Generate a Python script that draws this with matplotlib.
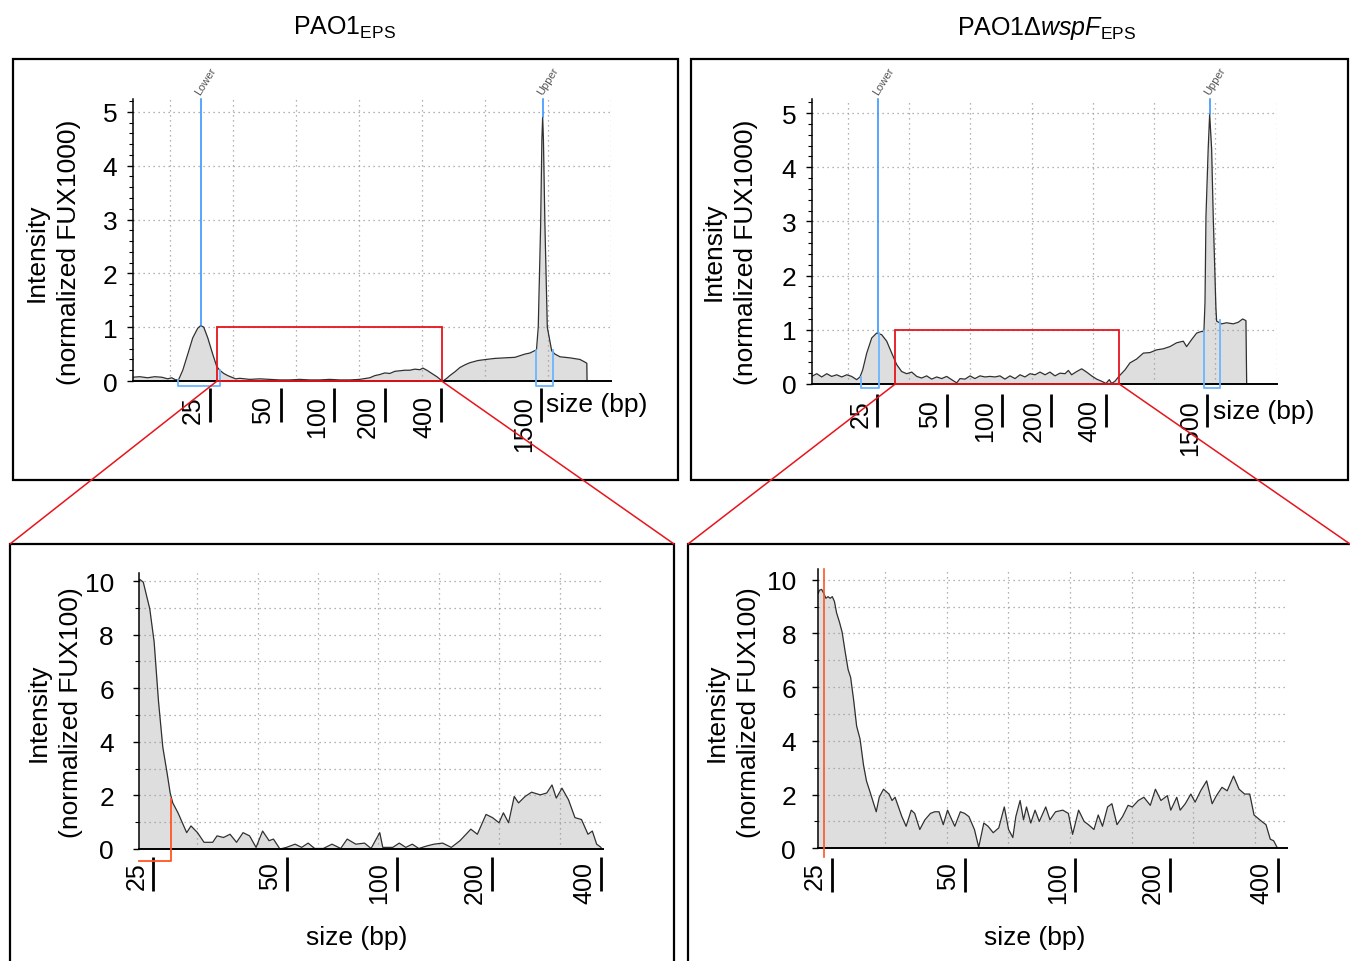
import matplotlib
matplotlib.use('Agg')
import matplotlib.pyplot as plt
from matplotlib.patches import Rectangle, ConnectionPatch
import matplotlib.transforms as mtransforms

plt.rcParams['font.family'] = ['Liberation Sans', 'DejaVu Sans']
plt.rcParams['mathtext.fontset'] = 'custom'
plt.rcParams['mathtext.rm'] = 'Liberation Sans'
plt.rcParams['mathtext.it'] = 'Liberation Sans:italic'

# ---------------- data (migration time in s, intensity) ----------------
size_labels_top = ['25', '50', '100', '200', '400', '1500']
size_labels_zoom = ['25', '50', '100', '200', '400']

# PAO1_EPS overview (FU x1000)
tl_t = [37.0, 37.56, 38.19, 38.75, 39.31, 39.79, 40.10, 40.42, 40.66, 40.98,
        41.38, 41.77, 42.17, 42.41, 42.65, 42.97, 43.36, 43.68, 43.92, 44.24,
        44.56, 44.87, 45.19, 45.51, 46.30, 47.10, 47.89, 48.69, 49.48, 50.28,
        51.07, 51.87, 52.66, 53.46, 54.26, 55.05, 55.85, 56.25, 56.64, 57.04,
        57.44, 57.84, 58.24, 58.63, 59.03, 59.43, 59.83, 60.07, 60.39, 60.78,
        61.18, 61.50, 61.66, 61.97, 62.21, 62.61, 63.01, 63.41, 63.81, 64.44,
        65.08, 65.80, 66.59, 67.39, 68.18, 68.58, 69.10, 69.24, 69.43, 69.53,
        69.59, 69.65, 69.77, 69.96, 70.31, 70.57, 70.97, 71.76, 72.56, 72.96,
        73.10, 73.12]
tl_y = [0.07, 0.08, 0.06, 0.08, 0.07, 0.04, 0.06, 0.02, 0.03, 0.2,
        0.5, 0.8, 0.98, 1.03, 1.0, 0.8, 0.5, 0.27, 0.2, 0.14,
        0.1, 0.07, 0.04, 0.05, 0.03, 0.04, 0.03, 0.02, 0.02, 0.03,
        0.02, 0.02, 0.03, 0.02, 0.02, 0.03, 0.06, 0.1, 0.12, 0.15,
        0.14, 0.18, 0.19, 0.2, 0.2, 0.22, 0.21, 0.24, 0.2, 0.14,
        0.08, 0.02, 0.0, 0.05, 0.1, 0.17, 0.25, 0.3, 0.34, 0.38,
        0.4, 0.42, 0.43, 0.44, 0.5, 0.52, 0.58, 1.0, 2.9, 4.5,
        4.9, 4.5, 2.9, 1.0, 0.56, 0.5, 0.45, 0.43, 0.4, 0.35,
        0.33, 0.0]

# PAO1 dwspF_EPS overview (FU x1000)
tr_t = [37.06, 37.47, 37.88, 38.29, 38.69, 39.10, 39.51, 39.92, 40.32, 40.73,
        41.00, 41.22, 41.55, 41.96, 42.36, 42.77, 43.18, 43.59, 43.99, 44.40,
        44.81, 45.22, 45.63, 46.03, 46.44, 46.85, 47.26, 47.67, 48.07, 48.48,
        48.89, 49.16, 49.57, 49.98, 50.38, 50.79, 51.20, 51.61, 52.02, 52.42,
        52.83, 53.24, 53.65, 54.06, 54.46, 54.87, 55.28, 55.69, 56.10, 56.50,
        56.91, 57.32, 57.73, 58.00, 58.27, 58.68, 59.09, 59.49, 59.90, 60.31,
        60.72, 61.07, 61.34, 61.53, 61.80, 62.16, 62.62, 63.03, 63.57, 64.12,
        64.66, 65.20, 65.75, 66.29, 66.83, 67.38, 67.65, 68.06, 68.47, 68.87,
        69.06, 69.15, 69.23, 69.41, 69.53, 69.69, 69.82, 70.04, 70.10, 70.51,
        70.91, 71.46, 71.87, 72.22, 72.49, 72.55]
tr_y = [0.14, 0.19, 0.13, 0.19, 0.14, 0.17, 0.13, 0.17, 0.14, 0.08,
        0.13, 0.26, 0.57, 0.85, 0.94, 0.91, 0.79, 0.57, 0.36, 0.23,
        0.19, 0.22, 0.14, 0.11, 0.15, 0.09, 0.13, 0.10, 0.14, 0.08,
        0.02, 0.10, 0.09, 0.15, 0.10, 0.15, 0.13, 0.14, 0.13, 0.15,
        0.09, 0.15, 0.10, 0.17, 0.13, 0.19, 0.17, 0.22, 0.17, 0.22,
        0.15, 0.20, 0.19, 0.25, 0.17, 0.23, 0.28, 0.22, 0.15, 0.09,
        0.05, 0.01, 0.08, 0.01, 0.05, 0.15, 0.26, 0.39, 0.46, 0.57,
        0.58, 0.63, 0.65, 0.69, 0.76, 0.79, 0.69, 0.82, 0.94, 0.97,
        0.97, 1.5, 3.1, 4.34, 4.98, 4.34, 3.1, 1.4, 1.16, 1.11,
        1.13, 1.11, 1.14, 1.2, 1.17, 0.0]

# PAO1_EPS zoom (FU x100)
bl_t = [42.59, 42.624, 42.767, 43.036, 43.216, 43.396, 43.575, 43.755, 43.880, 43.988,
        44.204, 44.383, 44.563, 44.742, 45.012, 45.281, 45.640, 45.820, 46.089, 46.358,
        46.627, 46.897, 47.166, 47.435, 47.705, 47.974, 48.154, 48.423, 48.692, 49.051,
        49.321, 49.590, 49.859, 50.218, 50.578, 50.937, 51.206, 51.565, 51.924, 52.194,
        52.553, 52.679, 53.091, 53.361, 53.630, 53.899, 54.168, 54.528, 54.797, 55.156,
        55.515, 55.874, 56.323, 56.593, 56.952, 57.221, 57.490, 57.670, 57.885, 58.119,
        58.298, 58.568, 58.837, 59.196, 59.465, 59.681, 59.860, 60.094, 60.363, 60.632,
        60.902, 61.171, 61.351, 61.530, 61.710]
bl_y = [10.0, 10.06, 9.96, 8.96, 7.73, 5.52, 3.80, 2.82, 2.09, 1.72,
        1.35, 0.98, 0.61, 0.86, 0.61, 0.25, 0.25, 0.49, 0.43, 0.55,
        0.25, 0.61, 0.49, 0.06, 0.67, 0.31, 0.37, 0.0, 0.06, 0.18,
        0.06, 0.22, 0.02, 0.02, 0.18, 0.02, 0.37, 0.18, 0.22, 0.02,
        0.61, 0.06, 0.06, 0.22, 0.06, 0.18, 0.02, 0.12, 0.18, 0.22,
        0.06, 0.31, 0.74, 0.55, 1.29, 1.17, 0.98, 1.35, 0.98, 1.96,
        1.72, 1.96, 2.12, 2.02, 2.09, 2.39, 1.90, 2.27, 1.84, 1.17,
        1.10, 0.55, 0.67, 0.18, 0.06]

# PAO1 dwspF_EPS zoom (FU x100)
br_t = [42.30, 42.348, 42.435, 42.521, 42.608, 42.694, 42.781, 42.867, 42.954, 43.040,
        43.161, 43.265, 43.386, 43.507, 43.611, 43.732, 43.853, 43.991, 44.130, 44.251,
        44.423, 44.545, 44.648, 44.769, 44.942, 45.167, 45.288, 45.410, 45.548, 45.686,
        45.859, 46.067, 46.205, 46.413, 46.620, 46.845, 47.018, 47.191, 47.364, 47.537,
        47.710, 47.831, 48.056, 48.229, 48.402, 48.627, 48.800, 49.007, 49.180, 49.388,
        49.613, 49.837, 50.010, 50.183, 50.304, 50.477, 50.616, 50.737, 50.910, 51.083,
        51.256, 51.515, 51.688, 51.913, 52.207, 52.432, 52.605, 52.847, 53.072, 53.245,
        53.470, 53.643, 53.816, 54.023, 54.196, 54.404, 54.629, 54.853, 55.026, 55.268,
        55.493, 55.753, 55.960, 56.185, 56.444, 56.583, 56.825, 56.963, 57.171, 57.396,
        57.569, 57.794, 58.036, 58.260, 58.433, 58.658, 58.869, 59.125, 59.351, 59.575,
        59.783, 59.956, 60.268, 60.441, 60.614, 60.752, 60.910]
br_y = [9.5, 9.61, 9.64, 9.49, 9.31, 9.37, 9.31, 9.37, 9.19, 8.77,
        8.41, 8.05, 7.33, 6.66, 6.36, 5.52, 4.55, 4.07, 3.11, 2.51,
        2.02, 1.66, 1.36, 1.90, 2.20, 2.02, 1.78, 1.90, 1.54, 1.18,
        0.82, 1.42, 1.30, 0.70, 1.06, 1.30, 1.36, 1.36, 0.88, 1.42,
        1.06, 0.82, 1.36, 1.30, 1.18, 0.70, 0.04, 0.94, 0.82, 0.58,
        0.76, 1.54, 0.70, 0.40, 1.18, 1.78, 1.06, 1.54, 0.94, 1.42,
        1.00, 1.54, 1.06, 1.36, 1.42, 1.30, 0.52, 1.42, 1.00, 0.88,
        0.70, 1.24, 0.82, 1.54, 1.66, 0.88, 1.18, 1.60, 1.54, 1.78,
        1.90, 1.60, 2.20, 1.78, 1.96, 1.42, 1.90, 1.42, 1.66, 2.02,
        1.72, 2.14, 2.51, 1.66, 1.96, 2.27, 2.14, 2.69, 2.20, 2.02,
        2.02, 1.24, 1.00, 0.88, 0.34, 0.28, 0.0]

# size ladder positions (s)
tl_tick_t = [43.13, 48.75, 53.00, 57.05, 61.50, 69.43]
tr_tick_t = [42.41, 48.08, 52.61, 56.56, 61.07, 69.34]
bl_tick_t = [43.18, 48.73, 53.25, 57.19, 61.71]
br_tick_t = [42.84, 48.24, 52.70, 56.55, 60.94]

# markers
tl_markers = {'Lower': (42.43, 1.03), 'Upper': (69.59, 4.9)}
tr_markers = {'Lower': (42.50, 0.94), 'Upper': (69.53, 4.98)}
tl_region = (43.71, 61.56, 1.01)
tr_region = (43.88, 62.15, 1.0)

# ---------------- figure ----------------
W, H = 1350, 962
fig = plt.figure(figsize=(13.5, 9.62), dpi=100)

def fx(px):
    return px / W

def fy(py):
    return 1 - py / H

def make_axes(left, right, top, bottom):
    return fig.add_axes([fx(left), fy(bottom), (right - left) / W, (bottom - top) / H])

GRID = dict(color='#9a9a9a', lw=0.9, ls=(0, (1, 3)), zorder=1.5)
FILL = '#dedede'
LINE = '#303030'
BLUE = '#2a8cff'
LBLUE = '#6ab4ff'
RED = '#e8141c'
ORANGE = '#ff5522'
LSP = 1.45


def base_style(ax, xlim, ylim, xgrid, ygrid, ymaj, ymin):
    ax.set_xlim(*xlim)
    ax.set_ylim(*ylim)
    for s in ['top', 'right']:
        ax.spines[s].set_visible(False)
    ax.spines['left'].set_linewidth(1.1)
    ax.spines['bottom'].set_linewidth(1.4)
    ax.set_xticks([])
    ax.set_yticks(ymaj)
    ax.set_yticks(ymin, minor=True)
    ax.tick_params(axis='y', which='major', length=4, width=1, labelsize=19, pad=7)
    ax.tick_params(axis='y', which='minor', length=3, width=0.8)
    for g in xgrid:
        ax.axvline(g, **GRID)
    for g in ygrid:
        ax.axhline(g, **GRID)


def size_ticks(ax, ts, labels, bar_y, txt_y, fs=18):
    trans = mtransforms.blended_transform_factory(ax.transData, ax.transAxes)
    ttrans = mtransforms.offset_copy(trans, fig=fig, x=-5, y=0, units='dots')
    for t, lab in zip(ts, labels):
        ax.plot([t, t], bar_y, transform=trans, color='black', lw=2.0,
                clip_on=False, solid_capstyle='butt')
        ax.text(t, txt_y, lab, transform=ttrans, rotation=90, ha='right',
                va='top', fontsize=fs)


def curve(ax, t, y):
    ax.fill_between(t, 0, y, color=FILL, lw=0, zorder=1)
    ax.plot(t, y, color=LINE, lw=0.9, zorder=2)


def markers(ax, mk, ytop):
    for name, (t, peak) in mk.items():
        ax.plot([t, t], [peak, ytop], color=BLUE, lw=1.1, zorder=3, clip_on=False)
        tt = mtransforms.offset_copy(ax.transData, fig=fig, x=-3, y=6, units='dots')
        ax.text(t, ytop, name, transform=tt, rotation=58, rotation_mode='anchor',
                ha='left', va='center', fontsize=8, color='#555555')


def ylabel(ax, x, y, txt):
    ax.text(x, y, txt, transform=ax.transAxes, rotation=90, ha='center', va='center',
            fontsize=19, linespacing=LSP, multialignment='center')


# ---- top-left ----
ax_tl = make_axes(132.7, 610.7, 100, 382)
base_style(ax_tl, (37.0, 75.0), (0, 5.24), [40, 45, 50, 55, 60, 65, 70, 75],
           [1, 2, 3, 4, 5], [0, 1, 2, 3, 4, 5], [i * 0.2 for i in range(27)])
curve(ax_tl, tl_t, tl_y)
markers(ax_tl, tl_markers, 5.24)
ax_tl.plot([40.6, 40.6, 43.95, 43.95], [0.02, -0.087, -0.087, 0.2], color=LBLUE, lw=1.3,
           clip_on=False, zorder=4)
ax_tl.plot([69.08, 69.08, 70.38, 70.38], [0.58, -0.087, -0.087, 0.58], color=LBLUE, lw=1.3,
           clip_on=False, zorder=4)
x0, x1, h = tl_region
ax_tl.add_patch(Rectangle((x0, 0), x1 - x0, h, fill=False, ec=RED, lw=1.3, zorder=5,
                          clip_on=False))
size_ticks(ax_tl, tl_tick_t, size_labels_top, [-0.026, -0.146], -0.050)
ax_tl.text(0.865, -0.082, 'size (bp)', transform=ax_tl.transAxes, ha='left', va='center',
           fontsize=19)
ylabel(ax_tl, -0.167, 0.46, 'Intensity\n(normalized FUX1000)')

# ---- top-right ----
ax_tr = make_axes(811.7, 1276.7, 100, 385)
base_style(ax_tr, (37.06, 75.0), (0, 5.26), [40, 45, 50, 55, 60, 65, 70, 75],
           [1, 2, 3, 4, 5], [0, 1, 2, 3, 4, 5], [i * 0.2 for i in range(27)])
curve(ax_tr, tr_t, tr_y)
markers(ax_tr, tr_markers, 5.26)
ax_tr.plot([41.06, 41.06, 42.55, 42.55], [0.13, -0.075, -0.075, 0.94], color=LBLUE, lw=1.3,
           clip_on=False, zorder=4)
ax_tr.plot([69.04, 69.04, 70.37, 70.37], [0.97, -0.075, -0.075, 1.19], color=LBLUE, lw=1.3,
           clip_on=False, zorder=4)
x0, x1, h = tr_region
ax_tr.add_patch(Rectangle((x0, 0), x1 - x0, h, fill=False, ec=RED, lw=1.3, zorder=5,
                          clip_on=False))
size_ticks(ax_tr, tr_tick_t, size_labels_top, [-0.035, -0.152], -0.053)
ax_tr.text(0.863, -0.095, 'size (bp)', transform=ax_tr.transAxes, ha='left', va='center',
           fontsize=19)
ylabel(ax_tr, -0.176, 0.467, 'Intensity\n(normalized FUX1000)')

# ---- bottom-left ----
ax_bl = make_axes(139, 602.7, 574, 850)
base_style(ax_bl, (42.59, 61.78), (0, 10.3), [45, 47.5, 50, 52.5, 55, 57.5, 60],
           list(range(1, 11)), [0, 2, 4, 6, 8, 10], list(range(0, 11)))
ax_bl.tick_params(axis='y', which='major', pad=14)
curve(ax_bl, bl_t, bl_y)
ax_bl.plot([42.59, 43.91, 43.91], [-0.46, -0.46, 1.87], color=ORANGE, lw=1.3,
           clip_on=False, zorder=4)
size_ticks(ax_bl, bl_tick_t, size_labels_zoom, [-0.030, -0.152], -0.043)
ax_bl.text(0.47, -0.32, 'size (bp)', transform=ax_bl.transAxes, ha='center', va='center',
           fontsize=19)
ylabel(ax_bl, -0.181, 0.498, 'Intensity\n(normalized FUX100)')

# ---- bottom-right ----
ax_br = make_axes(818.3, 1286.7, 570, 849.3)
base_style(ax_br, (42.30, 61.28), (0, 10.4), [45, 47.5, 50, 52.5, 55, 57.5, 60],
           list(range(1, 11)), [0, 2, 4, 6, 8, 10], list(range(0, 11)))
ax_br.tick_params(axis='y', which='major', pad=12)
curve(ax_br, br_t, br_y)
ax_br.plot([42.54, 42.54], [-0.32, 10.4], color=ORANGE, lw=1.2, clip_on=False, zorder=4)
size_ticks(ax_br, br_tick_t, size_labels_zoom, [-0.036, -0.155], -0.045)
ax_br.text(0.463, -0.318, 'size (bp)', transform=ax_br.transAxes, ha='center', va='center',
           fontsize=19)
ylabel(ax_br, -0.182, 0.488, 'Intensity\n(normalized FUX100)')

# ---- panel frames ----
for (l, t, r, b) in [(13, 60, 678, 481), (691, 60, 1348, 481),
                     (10, 545, 674, 980), (688, 545, 1370, 980)]:
    fig.add_artist(Rectangle((fx(l), fy(b)), (r - l) / W, (b - t) / H,
                             transform=fig.transFigure, fill=False, ec='black', lw=1.6))

# ---- connectors from the zoom regions ----
for ax, reg, (la, lb) in [(ax_tl, tl_region, ((10, 545), (674, 545))),
                          (ax_tr, tr_region, ((688, 545), (1350, 545)))]:
    for xt, (px, py) in [(reg[0], la), (reg[1], lb)]:
        con = ConnectionPatch(xyA=(xt, 0), coordsA=ax.transData,
                              xyB=(fx(px), fy(py)), coordsB=fig.transFigure,
                              color=RED, lw=1.1, zorder=10)
        fig.add_artist(con)

# ---- titles ----
fig.text(fx(345), fy(28), r'PAO1$_{\mathrm{EPS}}$', ha='center', va='center', fontsize=18)
fig.text(fx(1047), fy(28), r'PAO1Δ$\mathit{wspF}_{\mathrm{EPS}}$', ha='center',
         va='center', fontsize=18)

fig.savefig('out.png', dpi=100)
